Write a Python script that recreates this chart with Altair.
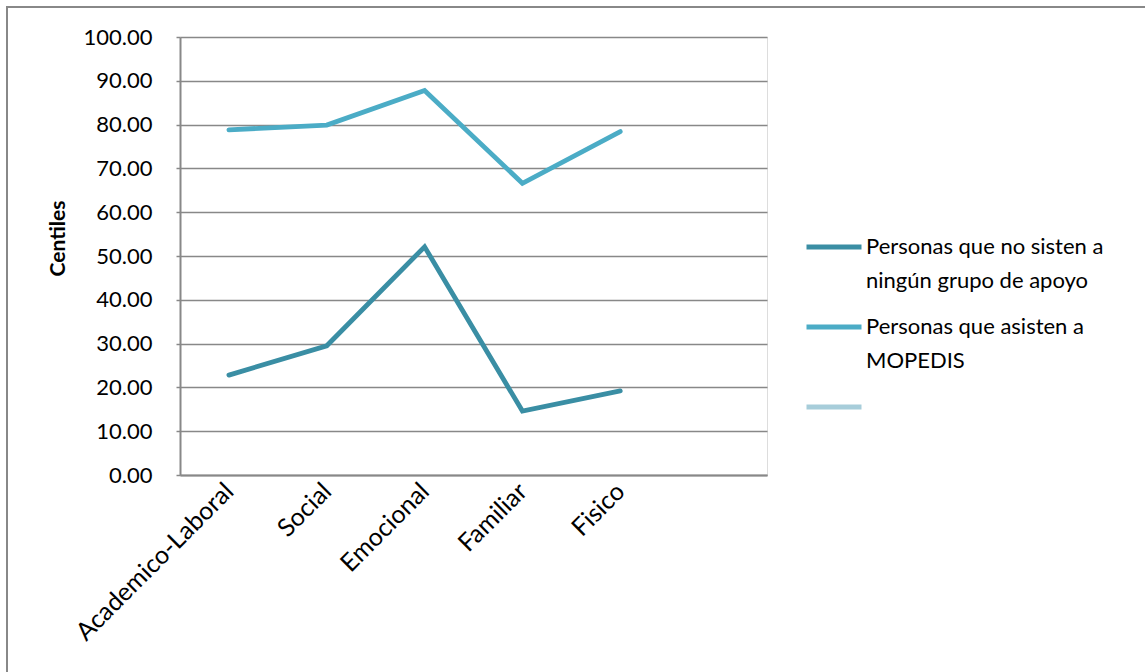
import altair as alt
import pandas as pd

# Categories on the x axis (a sixth empty slot keeps the right-hand space)
categorias = ["Academico-Laboral", "Social", "Emocional", "Familiar", "Fisico"]
dominio_x = categorias + [""]

# Series names (line breaks used for the legend labels)
serie_no = "Personas que no sisten a\nningún grupo de apoyo"
serie_si = "Personas que asisten a\nMOPEDIS"
serie_vacia = " "

# Centile values per category
valores_no = [22.8, 29.5, 52.1, 14.6, 19.2]
valores_si = [78.8, 79.9, 87.8, 66.6, 78.4]

colores = ["#3A8EA4", "#4BACC6", "#A7CDDA"]

df = pd.DataFrame(
    {
        "Categoria": categorias * 2,
        "Serie": [serie_no] * len(categorias) + [serie_si] * len(categorias),
        "Centiles": valores_no + valores_si,
    }
)

FONT = "Lato"
GRIS = "#888888"

lineas = (
    alt.Chart(df)
    .mark_line(strokeWidth=4.8, strokeCap="round", strokeJoin="miter")
    .encode(
        x=alt.X(
            "Categoria:N",
            sort=dominio_x,
            scale=alt.Scale(type="point", domain=dominio_x, padding=0.5),
            axis=alt.Axis(
                title=None,
                labelAngle=-45,
                labelAlign="right",
                labelBaseline="middle",
                labelPadding=12,
                labelLimit=0,
                ticks=False,
                grid=False,
                domainColor=GRIS,
                domainWidth=2,
                labelFont=FONT,
                labelFontSize=25,
                labelColor="#000000",
            ),
        ),
        y=alt.Y(
            "Centiles:Q",
            scale=alt.Scale(domain=[0, 100]),
            axis=alt.Axis(
                title="Centiles",
                values=list(range(0, 101, 10)),
                format=".2f",
                tickSize=4,
                tickColor=GRIS,
                tickWidth=1.5,
                gridColor=GRIS,
                gridWidth=1.5,
                domainColor=GRIS,
                domainWidth=2,
                labelPadding=24,
                labelFont=FONT,
                labelFontSize=22,
                labelColor="#000000",
                titleFont=FONT,
                titleFontSize=21,
                titleFontWeight="bold",
                titleColor="#000000",
                titleX=-112,
                titleY=201,
                titleAngle=270,
                titleAlign="center",
                titleBaseline="bottom",
            ),
        ),
        color=alt.Color(
            "Serie:N",
            scale=alt.Scale(domain=[serie_no, serie_si, serie_vacia], range=colores),
            legend=alt.Legend(
                title=None,
                orient="none",
                legendX=624,
                legendY=180,
                symbolType="stroke",
                symbolSize=3025,
                symbolStrokeWidth=4.8,
                labelOffset=2,
                labelExpr="split(datum.label, '\\n')",
                labelFont=FONT,
                labelFontSize=22,
                labelColor="#000000",
                labelLimit=0,
                rowPadding=5,
            ),
        ),
    )
)

# Outer frame around the whole figure
marco = (
    alt.Chart(pd.DataFrame({"k": [0]}))
    .mark_rect(fill=None, stroke=GRIS, strokeWidth=2)
    .encode(
        x=alt.value(-173),
        x2=alt.value(1300),
        y=alt.value(-30),
        y2=alt.value(900),
    )
)

chart = (
    alt.layer(marco, lineas)
    .properties(
        width=587,
        height=438,
        autosize=alt.AutoSizeParams(type="none"),
        padding={"left": 180, "top": 37, "right": 378, "bottom": 197},
        background="#FFFFFF",
    )
    .configure_view(stroke=None)
    .configure(style={"guide-label": {"lineHeight": 34}})
)

chart.save("out.html", embed_options={"renderer": "svg", "actions": False})
